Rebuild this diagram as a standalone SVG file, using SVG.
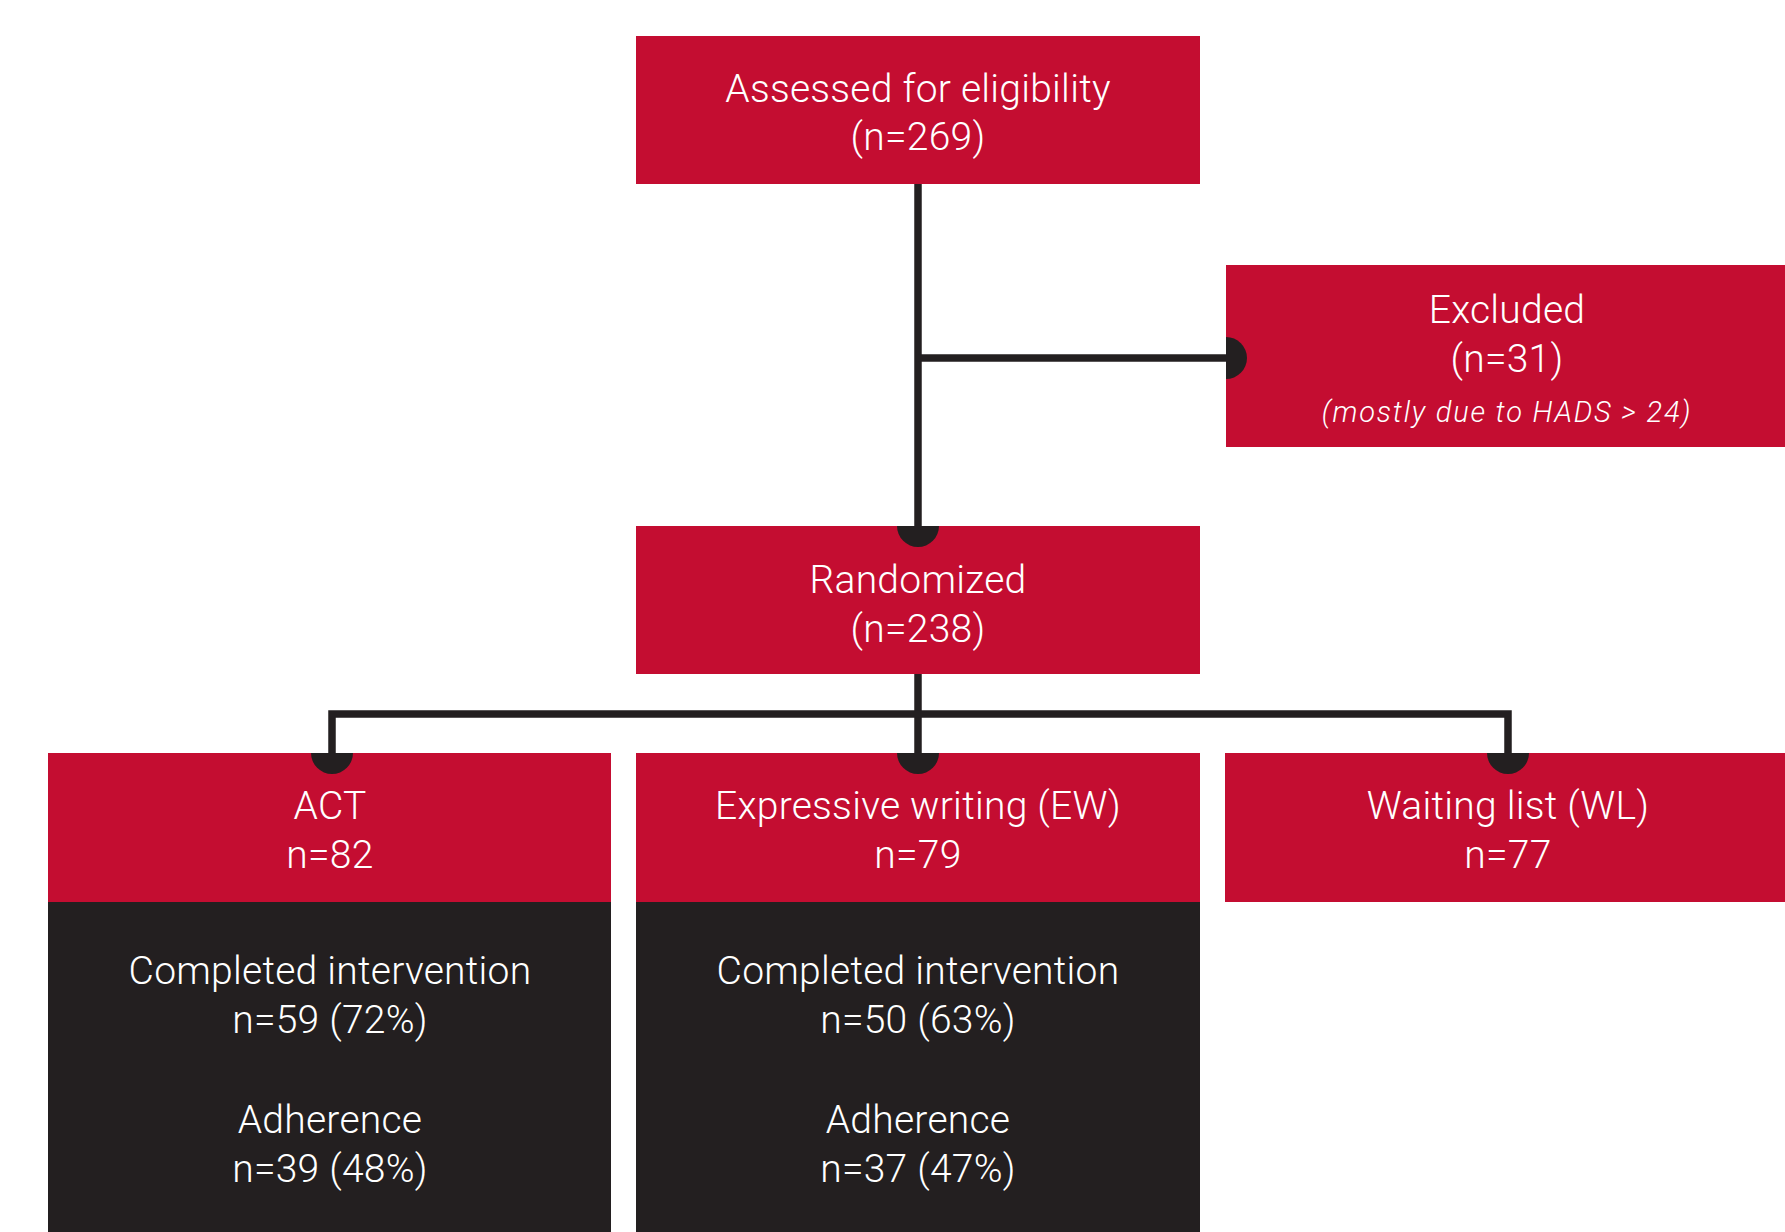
<svg xmlns="http://www.w3.org/2000/svg" width="1785" height="1232" viewBox="0 0 1785 1232">
  <style>
    .red { fill: #c40d31; }
    .dark { fill: #231f20; }
    .lbl { font-family: Roboto, "Liberation Sans", Arial, sans-serif; font-weight: 300; font-size: 39px; letter-spacing: 0.25px; fill: #ffffff; text-anchor: middle; }
    .note { font-family: Roboto, "Liberation Sans", Arial, sans-serif; font-weight: 300; font-style: italic; font-size: 29px; letter-spacing: 1.8px; fill: #ffffff; text-anchor: middle; }
    .wire { fill: none; stroke: #231f20; stroke-width: 7.5; stroke-linejoin: miter; stroke-linecap: butt; }
    .dot { fill: #231f20; }
  </style>
  <rect width="1785" height="1232" fill="#ffffff"/>

  <!-- Boxes -->
  <g id="assessed">
    <rect class="red" x="636" y="36" width="564" height="148"/>
    <text class="lbl" x="918" y="102">Assessed for eligibility</text>
    <text class="lbl" x="918" y="150">(n=269)</text>
  </g>

  <g id="excluded">
    <rect class="red" x="1226" y="265" width="564" height="182"/>
    <text class="lbl" x="1507" y="323">Excluded</text>
    <text class="lbl" x="1507" y="372">(n=31)</text>
    <text class="note" x="1507" y="422">(mostly due to HADS &gt; 24)</text>
  </g>

  <g id="randomized">
    <rect class="red" x="636" y="526" width="564" height="148"/>
    <text class="lbl" x="918" y="593">Randomized</text>
    <text class="lbl" x="918" y="642">(n=238)</text>
  </g>

  <g id="act">
    <rect class="red" x="48" y="753" width="563" height="149"/>
    <rect class="dark" x="48" y="902" width="563" height="330"/>
    <text class="lbl" x="330" y="819">ACT</text>
    <text class="lbl" x="330" y="868">n=82</text>
    <text class="lbl" x="330" y="984">Completed intervention</text>
    <text class="lbl" x="330" y="1033">n=59 (72%)</text>
    <text class="lbl" x="330" y="1133">Adherence</text>
    <text class="lbl" x="330" y="1182">n=39 (48%)</text>
  </g>

  <g id="ew">
    <rect class="red" x="636" y="753" width="564" height="149"/>
    <rect class="dark" x="636" y="902" width="564" height="330"/>
    <text class="lbl" x="918" y="819">Expressive writing (EW)</text>
    <text class="lbl" x="918" y="868">n=79</text>
    <text class="lbl" x="918" y="984">Completed intervention</text>
    <text class="lbl" x="918" y="1033">n=50 (63%)</text>
    <text class="lbl" x="918" y="1133">Adherence</text>
    <text class="lbl" x="918" y="1182">n=37 (47%)</text>
  </g>

  <g id="wl">
    <rect class="red" x="1225" y="753" width="564" height="149"/>
    <text class="lbl" x="1508" y="819">Waiting list (WL)</text>
    <text class="lbl" x="1508" y="868">n=77</text>
  </g>

  <!-- Connectors with half-disc ends on the target box edge -->
  <g id="connectors">
    <line class="wire" x1="918" y1="184" x2="918" y2="526"/>
    <line class="wire" x1="918" y1="358" x2="1226" y2="358"/>
    <path class="dot" d="M1226 337 A21 21 0 0 1 1226 379 Z"/>
    <path class="dot" d="M897 526 A21 21 0 0 0 939 526 Z"/>

    <line class="wire" x1="918" y1="674" x2="918" y2="753"/>
    <polyline class="wire" points="332,753 332,714 1508,714 1508,753"/>
    <path class="dot" d="M311 753 A21 21 0 0 0 353 753 Z"/>
    <path class="dot" d="M897 753 A21 21 0 0 0 939 753 Z"/>
    <path class="dot" d="M1487 753 A21 21 0 0 0 1529 753 Z"/>
  </g>
</svg>
